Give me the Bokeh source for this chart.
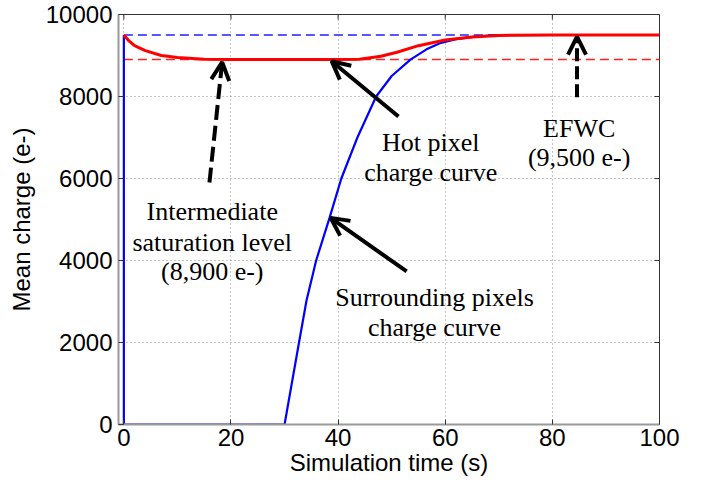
from bokeh.plotting import figure
from bokeh.models import Arrow, OpenHead, FixedTicker
from bokeh.core.properties import value
from bokeh.embed import file_html
from bokeh.resources import INLINE

# Surrounding pixels charge curve (blue)
blue_t = [0, 0, 30, 32.7, 34.1, 35.9, 38.4, 40.6, 43.6, 47.1, 50, 53.5, 56.5, 59, 62, 66, 70, 80, 100]
blue_q = [9500, 0, 0, 2000, 3024, 4000, 5040, 6000, 7000, 8000, 8500, 8900, 9150, 9300, 9400, 9465, 9495, 9500, 9500]

# Hot pixel charge curve (red)
red_t = [0, 1, 2, 4, 7, 10, 15, 20, 40, 44, 48, 51, 55, 60, 65, 70, 80, 100]
red_q = [9500, 9350, 9240, 9120, 9000, 8950, 8910, 8900, 8900, 8910, 8980, 9080, 9240, 9380, 9450, 9490, 9500, 9500]

efwc_level = 9500
inter_level = 8900

x_ticks = [0, 20, 40, 60, 80, 100]
y_ticks = [0, 2000, 4000, 6000, 8000, 10000]

SANS = "Liberation Sans"
SERIF = "Liberation Serif"

X0, X1, Y0, Y1 = -1, 100, 0, 10000

p = figure(width=702, height=485, x_range=(X0, X1), y_range=(Y0, Y1),
           output_backend="svg", toolbar_location=None,
           min_border_left=118, min_border_right=43, min_border_top=14, min_border_bottom=61)
p.background_fill_color = "white"
p.border_fill_color = "white"
p.outline_line_color = "#333333"
p.outline_line_width = 1

p.xaxis.ticker = FixedTicker(ticks=x_ticks)
p.yaxis.ticker = FixedTicker(ticks=y_ticks)
for ax in (p.xaxis[0], p.yaxis[0]):
    ax.major_label_text_font = SANS
    ax.major_label_text_font_size = "24px"
    ax.major_label_text_color = "black"
    ax.axis_label_text_font = SANS
    ax.axis_label_text_font_size = "24px"
    ax.axis_label_text_font_style = "normal"
    ax.axis_label_text_color = "black"
    ax.major_tick_in = 5
    ax.major_tick_out = 0
    ax.minor_tick_in = 0
    ax.minor_tick_out = 0
    ax.major_tick_line_color = "#333333"
    ax.axis_line_color = "#999999"
    ax.axis_line_width = 2

p.xaxis.axis_label = "Simulation time (s)"
p.yaxis.axis_label = "Mean charge (e-)"
p.xaxis.major_label_standoff = 4
p.xaxis.axis_label_standoff = 0
p.yaxis.major_label_standoff = 6
p.yaxis.axis_label_standoff = 8

# inner ticks on the top and right edges (box style)
tick_len_y = (Y1 - Y0) * 5 / 410
tick_len_x = (X1 - X0) * 5 / 541
p.segment(x0=x_ticks, y0=[Y1] * len(x_ticks), x1=x_ticks, y1=[Y1 - tick_len_y] * len(x_ticks),
          line_color="#333333", line_width=1)
p.segment(x0=[X1] * len(y_ticks), y0=y_ticks, x1=[X1 - tick_len_x] * len(y_ticks), y1=y_ticks,
          line_color="#333333", line_width=1)

p.xgrid.ticker = FixedTicker(ticks=x_ticks)
p.ygrid.ticker = FixedTicker(ticks=y_ticks)
p.grid.grid_line_color = "#8c8c8c"
p.grid.grid_line_dash = "1 3"
p.grid.grid_line_width = 1

# reference levels
p.line([0, 100], [efwc_level, efwc_level], line_color="#2020ff", line_dash="9 5", line_width=1.5)
p.line([0, 100], [inter_level, inter_level], line_color="#ff2020", line_dash="9 5", line_width=1.5)

# curves
p.line(blue_t, blue_q, line_color="#0000ff", line_width=2.2)
p.line(red_t, red_q, line_color="#ff0000", line_width=3)

# arrows
def arrow(x0, y0, x1, y1, dash):
    p.add_layout(Arrow(x_start=x0, y_start=y0, x_end=x1, y_end=y1,
                       line_color="black", line_width=4, line_dash=dash,
                       end=OpenHead(size=18, line_color="black", line_width=4)))

arrow(15.98, 5902, 18.35, 8837, "15 6")
arrow(51.27, 7512, 38.8, 8860, "solid")
arrow(52.8, 3732, 38.6, 5040, "solid")
arrow(84.6, 7983, 84.6, 9460, "13 5")

# annotation texts
ann_x = [16.5, 16.5, 16.5, 58.0, 58.0, 57.3, 57.3, 85.0, 85.0]
ann_y = [5202, 4446, 3732, 3105, 2373, 6885, 6154, 7212, 6512]
ann_s = ["Intermediate", "saturation level", "(8,900 e-)",
         "Surrounding pixels", "charge curve",
         "Hot pixel", "charge curve",
         "EFWC", "(9,500 e-)"]
p.text(ann_x, ann_y, text=ann_s, text_font=value(SERIF), text_font_size="26px",
       text_align="center", text_baseline="alphabetic", text_color="black")

open("out.html", "w").write(file_html(p, INLINE))
